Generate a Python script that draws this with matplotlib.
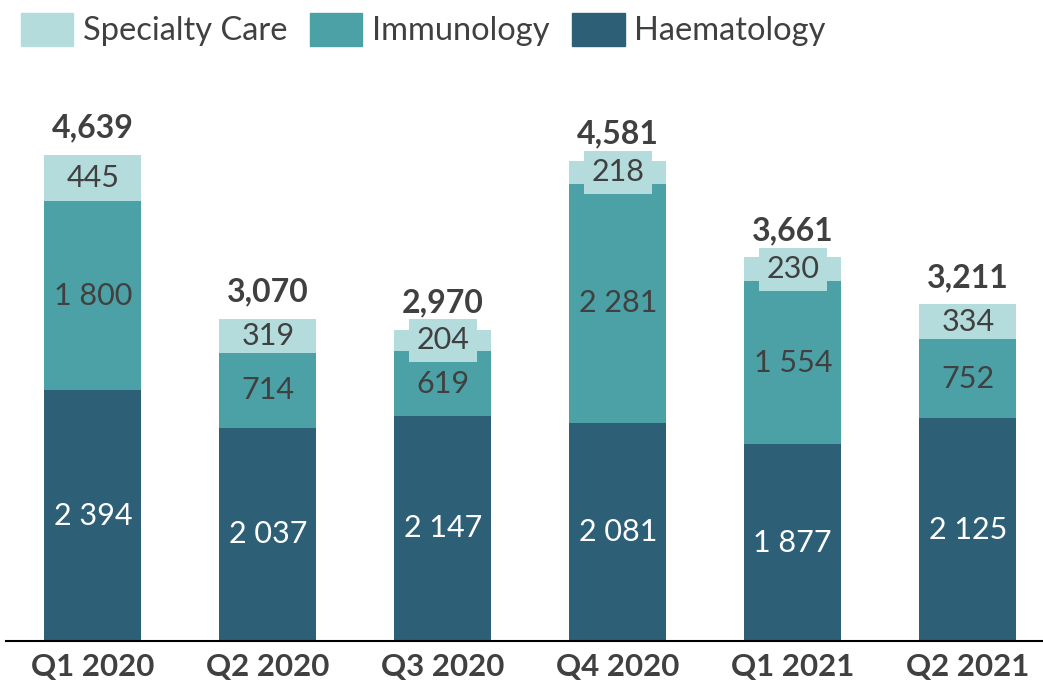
import numpy as np
import matplotlib.pyplot as plt
from matplotlib.patches import Patch

plt.rcParams['font.family'] = ['Lato', 'DejaVu Sans']

quarters = ['Q1 2020', 'Q2 2020', 'Q3 2020', 'Q4 2020', 'Q1 2021', 'Q2 2021']
haem = [2394, 2037, 2147, 2081, 1877, 2125]
immu = [1800, 714, 619, 2281, 1554, 752]
spec = [445, 319, 204, 218, 230, 334]
totals = [4639, 3070, 2970, 4581, 3661, 3211]

c_spec = '#B5DCDD'
c_immu = '#4BA1A6'
c_haem = '#2D5F77'
grey = '#404040'

fig = plt.figure(figsize=(10.43, 6.9), dpi=100)
ax = fig.add_axes([6 / 1043, 1 - 641 / 690, 1 - 6 / 1043, (641 - 60) / 690])

x = np.arange(len(quarters))
w = 0.554
haem = np.array(haem)
immu = np.array(immu)
spec = np.array(spec)

ax.bar(x, haem, w, color=c_haem)
ax.bar(x, immu, w, bottom=haem, color=c_immu)
ax.bar(x, spec, w, bottom=haem + immu, color=c_spec)


def fmt(v):
    return '{:,}'.format(v).replace(',', ' ')


fs = 22
for i in range(len(x)):
    ax.text(x[i], haem[i] / 2, fmt(haem[i]), ha='center', va='center',
            fontsize=fs, color='white')
    ax.text(x[i], haem[i] + immu[i] / 2, fmt(immu[i]), ha='center', va='center',
            fontsize=fs, color=grey)
    # label fill only shows where the segment is too thin for the text
    box = None
    if spec[i] < 300:
        box = dict(boxstyle='square,pad=0.25', facecolor=c_spec, edgecolor='none')
    ax.text(x[i], haem[i] + immu[i] + spec[i] / 2, fmt(spec[i]), ha='center',
            va='center', fontsize=fs, color=grey, zorder=5, bbox=box)
    ax.annotate('{:,}'.format(totals[i]), (x[i], haem[i] + immu[i] + spec[i]),
                xytext=(0, 27), textcoords='offset pixels', ha='center',
                va='center', fontsize=23, fontweight='bold', color=grey)

ax.set_xlim(-0.497, 5.43)
ax.set_ylim(0, 5544)
ax.set_xticks(x)
ax.set_xticklabels(quarters, fontsize=22.5, fontweight='bold', color=grey)
ax.tick_params(axis='x', length=0, pad=9)
ax.set_yticks([])
for s in ['top', 'right', 'left']:
    ax.spines[s].set_visible(False)
ax.spines['bottom'].set_linewidth(1.5)

handles = [Patch(color=c_spec, label='Specialty Care'),
           Patch(color=c_immu, label='Immunology'),
           Patch(color=c_haem, label='Haematology')]
fig.legend(handles=handles, ncol=3, loc='upper left', bbox_to_anchor=(0.001, 1.01),
           frameon=False, fontsize=23.5, handlelength=1.6, handleheight=1.18,
           handletextpad=0.3, columnspacing=0.7, labelcolor=grey,
           borderaxespad=0.2)

fig.savefig('out.png', dpi=100)
